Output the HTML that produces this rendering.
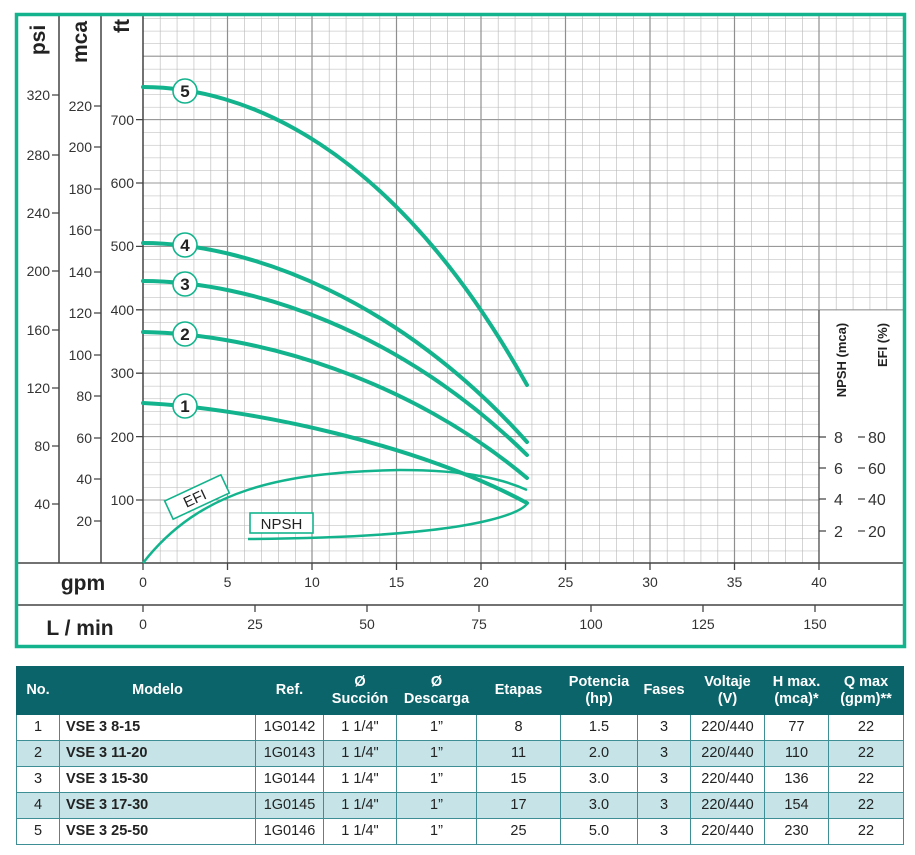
<!DOCTYPE html>
<html><head><meta charset="utf-8"><style>
html,body{margin:0;padding:0;background:#fff;width:915px;height:855px;overflow:hidden;font-family:"Liberation Sans",sans-serif}
svg{position:absolute;left:0;top:0}
table{position:absolute;left:16px;top:666px;border-collapse:collapse;table-layout:fixed;font-family:"Liberation Sans",sans-serif;font-size:14.5px;color:#222}
td,th{border:1.5px solid #3d8f95;padding:0;text-align:center;height:25px;line-height:25px}
th{background:#0b6469;color:#fff;font-weight:bold;height:47px;line-height:17px;font-size:14.5px;border-color:#0b6469}
tr.a td{background:#c6e3e7}
td.m{text-align:left;padding-left:6px;font-weight:bold}
</style></head><body>
<svg width="915" height="660" viewBox="0 0 915 660">
<defs>
<pattern id="g" patternUnits="userSpaceOnUse" x="143" y="563.4" width="16.9" height="12.68">
<line x1="0" y1="0" x2="0" y2="12.68" stroke="#a8a8a8" stroke-width="1"/>
<line x1="0" y1="0" x2="16.9" y2="0" stroke="#b4b4b4" stroke-width="1"/>
</pattern>
</defs>
<rect x="143" y="16" width="760" height="547" fill="url(#g)"/>
<g stroke="#8f8f8f" stroke-width="1.2">
<line x1="227.5" y1="16" x2="227.5" y2="563"/><line x1="312" y1="16" x2="312" y2="563"/><line x1="396.5" y1="16" x2="396.5" y2="563"/><line x1="481" y1="16" x2="481" y2="563"/><line x1="565.5" y1="16" x2="565.5" y2="563"/><line x1="650" y1="16" x2="650" y2="563"/><line x1="734.5" y1="16" x2="734.5" y2="563"/><line x1="819" y1="16" x2="819" y2="563"/>
</g>
<g stroke="#999" stroke-width="1.1">
<line x1="143" y1="500" x2="903" y2="500"/><line x1="143" y1="436.6" x2="903" y2="436.6"/><line x1="143" y1="373.2" x2="903" y2="373.2"/><line x1="143" y1="309.8" x2="903" y2="309.8"/><line x1="143" y1="246.4" x2="903" y2="246.4"/><line x1="143" y1="183" x2="903" y2="183"/><line x1="143" y1="119.6" x2="903" y2="119.6"/><line x1="143" y1="56.2" x2="903" y2="56.2"/>
</g>
<rect x="819.7" y="310.5" width="84" height="252" fill="#fff"/>
<line x1="819" y1="310" x2="819" y2="563" stroke="#555" stroke-width="1.3"/>
<g stroke="#444" stroke-width="1.5">
<line x1="59" y1="16" x2="59" y2="563"/><line x1="101" y1="16" x2="101" y2="563"/><line x1="143" y1="16" x2="143" y2="563"/>
<line x1="17" y1="563" x2="903" y2="563"/><line x1="17" y1="605" x2="903" y2="605"/>
</g>
<g font-weight="bold" font-size="21" fill="#222">
<text transform="translate(45,40) rotate(-90)" text-anchor="middle">psi</text>
<text transform="translate(87,42) rotate(-90)" text-anchor="middle">mca</text>
<text transform="translate(129,26) rotate(-90)" text-anchor="middle">ft</text>
<text x="83" y="590" text-anchor="middle">gpm</text>
<text x="80" y="635" text-anchor="middle">L / min</text>
</g>
<g font-weight="bold" font-size="13" fill="#222">
<text transform="translate(846,360) rotate(-90)" text-anchor="middle">NPSH (mca)</text>
<text transform="translate(887,345) rotate(-90)" text-anchor="middle">EFI (%)</text>
</g>
<g stroke="#444" stroke-width="1.3">
<path d="M52 95H59M52 155H59M52 213H59M52 271H59M52 330H59M52 388H59M52 446H59M52 504H59"/>
<path d="M94 106H101M94 147H101M94 189H101M94 230H101M94 272H101M94 313H101M94 355H101M94 396H101M94 438H101M94 479H101M94 521H101"/>
<path d="M136 119.6H143M136 183H143M136 246.4H143M136 309.8H143M136 373.2H143M136 436.6H143M136 500H143"/>
<path d="M819 437H826M819 468H826M819 499H826M819 531H826"/>
<path d="M858 437H865M858 468H865M858 499H865M858 531H865"/>
<path d="M143 563V570M227.5 563V570M312 563V570M396.5 563V570M481 563V570M565.5 563V570M650 563V570M734.5 563V570M819 563V570"/>
<path d="M143 605V612M255 605V612M367 605V612M479 605V612M591 605V612M703 605V612M815 605V612"/>
</g>
<g font-size="14" fill="#333">
<g text-anchor="end">
<text x="50" y="100">320</text><text x="50" y="160">280</text><text x="50" y="218">240</text><text x="50" y="276">200</text><text x="50" y="335">160</text><text x="50" y="393">120</text><text x="50" y="451">80</text><text x="50" y="509">40</text>
<text x="92" y="111">220</text><text x="92" y="152">200</text><text x="92" y="194">180</text><text x="92" y="235">160</text><text x="92" y="277">140</text><text x="92" y="318">120</text><text x="92" y="360">100</text><text x="92" y="401">80</text><text x="92" y="443">60</text><text x="92" y="484">40</text><text x="92" y="526">20</text>
<text x="134" y="125">700</text><text x="134" y="188">600</text><text x="134" y="251">500</text><text x="134" y="315">400</text><text x="134" y="378">300</text><text x="134" y="442">200</text><text x="134" y="505">100</text>
</g>
<g font-size="16"><text x="834" y="443">8</text><text x="834" y="474">6</text><text x="834" y="505">4</text><text x="834" y="537">2</text>
<text x="868" y="443">80</text><text x="868" y="474">60</text><text x="868" y="505">40</text><text x="868" y="537">20</text></g>
<g text-anchor="middle" font-size="14">
<text x="143" y="587">0</text><text x="227.5" y="587">5</text><text x="312" y="587">10</text><text x="396.5" y="587">15</text><text x="481" y="587">20</text><text x="565.5" y="587">25</text><text x="650" y="587">30</text><text x="734.5" y="587">35</text><text x="819" y="587">40</text>
<text x="143" y="629">0</text><text x="255" y="629">25</text><text x="367" y="629">50</text><text x="479" y="629">75</text><text x="591" y="629">100</text><text x="703" y="629">125</text><text x="815" y="629">150</text>
</g>
</g>
<g fill="none" stroke="#13b48d" stroke-width="4" stroke-linecap="round">
<path d="M143 87 C240 87 390 140 527 385"/>
<path d="M143 243 C250 243 400 300 527 442"/>
<path d="M143 281 C250 281 400 330 527 455"/>
<path d="M143 332 C260 334 410 380 527 478"/>
<path d="M143 403 C250 408 420 445 527 503"/>
</g>
<g fill="none" stroke="#13b48d" stroke-width="2.5">
<path d="M143 563 C200 490 280 472 400 470 C470 470 505 480 527 490"/>
<path d="M248 539 C380 538 450 530 490 520 C510 515 522 510 527 504"/>
</g>
<g fill="#fff" stroke="#13b48d" stroke-width="1.6">
<circle cx="185" cy="91" r="12"/><circle cx="185" cy="245" r="12"/><circle cx="185" cy="284" r="12"/><circle cx="185" cy="334" r="12"/><circle cx="185" cy="406" r="12"/>
<rect x="250" y="513" width="63" height="20"/>
<rect x="-31" y="-10" width="62" height="20" transform="translate(197,497) rotate(-25)"/>
</g>
<g font-weight="bold" font-size="17" fill="#222" text-anchor="middle">
<text x="185" y="97">5</text><text x="185" y="251">4</text><text x="185" y="290">3</text><text x="185" y="340">2</text><text x="185" y="412">1</text>
</g>
<g font-size="15" fill="#222" text-anchor="middle">
<text x="281.5" y="529">NPSH</text>
<text transform="translate(197,503) rotate(-25)">EFI</text>
</g>
<rect x="16.5" y="14.5" width="888" height="632" fill="none" stroke="#13b48d" stroke-width="3.5"/>
</svg>
<table>
<colgroup><col style="width:43px"><col style="width:196px"><col style="width:68px"><col style="width:73px"><col style="width:80px"><col style="width:84px"><col style="width:77px"><col style="width:53px"><col style="width:74px"><col style="width:64px"><col style="width:75px"></colgroup>
<tr><th>No.</th><th>Modelo</th><th>Ref.</th><th>Ø<br>Succión</th><th>Ø<br>Descarga</th><th>Etapas</th><th>Potencia<br>(hp)</th><th>Fases</th><th>Voltaje<br>(V)</th><th>H max.<br>(mca)*</th><th>Q max<br>(gpm)**</th></tr>
<tr><td>1</td><td class="m">VSE 3 8-15</td><td>1G0142</td><td>1 1/4"</td><td>1”</td><td>8</td><td>1.5</td><td>3</td><td>220/440</td><td>77</td><td>22</td></tr>
<tr class="a"><td>2</td><td class="m">VSE 3 11-20</td><td>1G0143</td><td>1 1/4"</td><td>1”</td><td>11</td><td>2.0</td><td>3</td><td>220/440</td><td>110</td><td>22</td></tr>
<tr><td>3</td><td class="m">VSE 3 15-30</td><td>1G0144</td><td>1 1/4"</td><td>1”</td><td>15</td><td>3.0</td><td>3</td><td>220/440</td><td>136</td><td>22</td></tr>
<tr class="a"><td>4</td><td class="m">VSE 3 17-30</td><td>1G0145</td><td>1 1/4"</td><td>1”</td><td>17</td><td>3.0</td><td>3</td><td>220/440</td><td>154</td><td>22</td></tr>
<tr><td>5</td><td class="m">VSE 3 25-50</td><td>1G0146</td><td>1 1/4"</td><td>1”</td><td>25</td><td>5.0</td><td>3</td><td>220/440</td><td>230</td><td>22</td></tr>
</table>
</body></html>
